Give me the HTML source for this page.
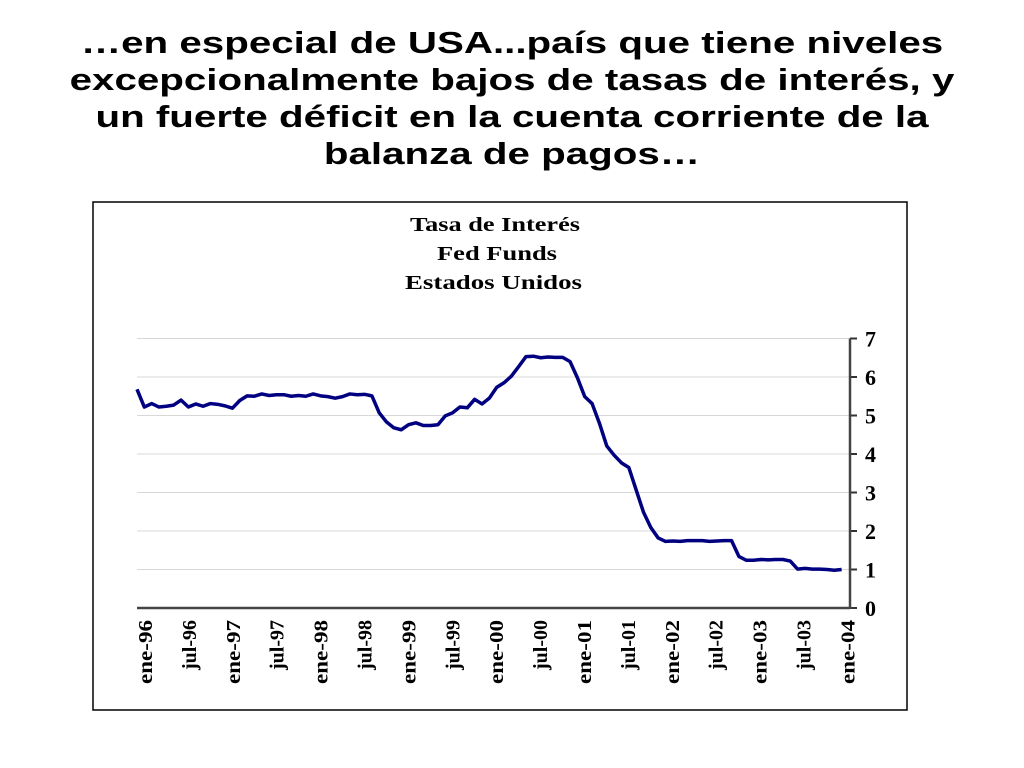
<!DOCTYPE html>
<html><head><meta charset="utf-8"><style>
body{margin:0;width:1024px;height:768px;background:#fff;overflow:hidden}
h1{position:absolute;left:0;top:24px;width:1024px;margin:0;text-align:center;font:bold 31px/37px "Liberation Sans",sans-serif;color:#000;transform:scaleX(1.3);transform-origin:512px 0}
</style></head><body>
<h1>…en especial de USA...país que tiene niveles<br>excepcionalmente bajos de tasas de interés, y<br>un fuerte déficit en la cuenta corriente de la<br>balanza de pagos…</h1>
<svg id="c" width="1024" height="768" style="position:absolute;left:0;top:0">
<rect x="93" y="202" width="814" height="508" fill="none" stroke="#000" stroke-width="1.5"/>
<g font-family="Liberation Serif,serif" font-weight="bold" font-size="20">
<text x="410" y="231" textLength="170" lengthAdjust="spacingAndGlyphs">Tasa de Interés</text><text x="437" y="260" textLength="120" lengthAdjust="spacingAndGlyphs">Fed Funds</text><text x="405" y="289" textLength="177" lengthAdjust="spacingAndGlyphs">Estados Unidos</text></g>
</svg>
<script>
const rates=[5.68,5.22,5.31,5.22,5.24,5.27,5.40,5.22,5.30,5.24,5.31,5.29,
5.25,5.19,5.39,5.51,5.50,5.56,5.52,5.54,5.54,5.50,5.52,5.50,
5.56,5.51,5.49,5.45,5.49,5.56,5.54,5.55,5.51,5.07,4.83,4.68,
4.63,4.76,4.81,4.74,4.74,4.76,4.99,5.07,5.22,5.20,5.42,5.30,
5.45,5.73,5.85,6.02,6.27,6.53,6.54,6.50,6.52,6.51,6.51,6.40,
5.98,5.49,5.31,4.80,4.21,3.97,3.77,3.65,3.07,2.49,2.09,1.82,
1.73,1.74,1.73,1.75,1.75,1.75,1.73,1.74,1.75,1.75,1.34,1.24,
1.24,1.26,1.25,1.26,1.26,1.22,1.01,1.03,1.01,1.01,1.00,0.98,
1.00];
const xLabels=["ene-96","jul-96","ene-97","jul-97","ene-98","jul-98","ene-99","jul-99","ene-00","jul-00","ene-01","jul-01","ene-02","jul-02","ene-03","jul-03","ene-04"];
const yTicks=[0,1,2,3,4,5,6,7];
const NS="http://www.w3.org/2000/svg",svg=document.getElementById('c');
const x=i=>137+i*7.34, y=v=>608-v*38.5, lx=k=>145+k*43.9;
function mk(t,a,p){const e=document.createElementNS(NS,t);for(const k in a)e.setAttribute(k,a[k]);(p||svg).appendChild(e);return e;}
yTicks.forEach(v=>{
 if(v>0){const g=mk('line',{x1:137,x2:850,y1:y(v),y2:y(v),stroke:'#d8d8d8','stroke-width':1});
 
 }
 const t=mk('line',{x1:850,x2:857,y1:y(v),y2:y(v),stroke:'#333','stroke-width':2});
 
 
 const l=mk('text',{x:865,y:y(v)+8,'font-family':'Liberation Serif,serif','font-weight':'bold','font-size':22});
 l.textContent=v;
 
 
});
const ax=mk('line',{x1:137,x2:850,y1:608,y2:608,stroke:'#444','stroke-width':2.5});


const ay=mk('line',{x1:850,x2:850,y1:y(7),y2:609,stroke:'#444','stroke-width':2.5});


xLabels.forEach((s,k)=>{
 const len=s.startsWith('ene')?64:50;
 const t=mk('text',{transform:`translate(${lx(k)+7},620) rotate(-90)`,x:-len,textLength:len,lengthAdjust:'spacingAndGlyphs','font-family':'Liberation Serif,serif','font-weight':'bold','font-size':20});
 t.textContent=s;
 
 
});
const p=mk('polyline',{points:rates.map((v,i)=>x(i)+','+y(v)).join(' '),fill:'none',stroke:'#000080','stroke-width':3.5,'stroke-linejoin':'round'});


</script>
</body></html>
